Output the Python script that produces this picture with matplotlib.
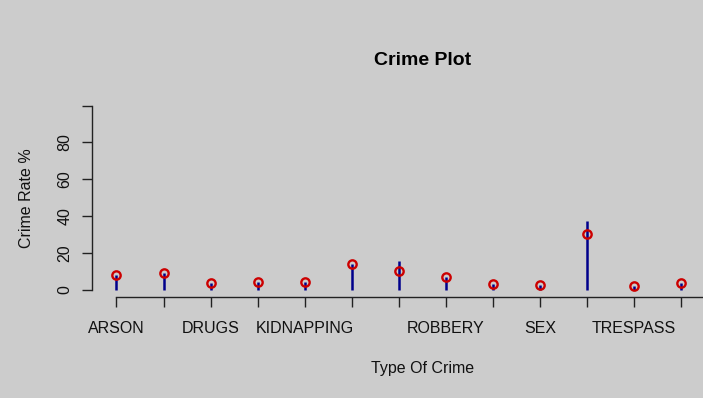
import numpy as np
import matplotlib
matplotlib.use("Agg")
import matplotlib.pyplot as plt

plt.rcParams["font.family"] = ["Liberation Sans", "DejaVu Sans"]

# crime categories (only some labels fit on the axis, like in R)
crimes = ["ARSON", "ASSAULT", "DRUGS", "FRAUD", "KIDNAPPING", "LARCENY",
          "OTHER OFFENSES", "ROBBERY", "RUNAWAY", "SEX", "THEFT",
          "TRESPASS", "VANDALISM"]
shown = ["ARSON", "DRUGS", "KIDNAPPING", "ROBBERY", "SEX", "TRESPASS"]

# red points: crime rate %
rate = [8, 9, 3.6, 4.2, 4.2, 14, 10.3, 6.7, 3.1, 2.4, 30.2, 1.8, 3.6]
# blue stems (type = "h")
stem = [8, 9, 3.6, 4.2, 4.2, 14, 15.7, 6.7, 3.1, 2.4, 37.4, 1.8, 3.6]

bg = "#cccccc"
fig = plt.figure(figsize=(7.03, 3.98), dpi=100, facecolor=bg)
ax = fig.add_axes([0.1309, 0.2538, 0.940, 0.4992], facecolor=bg)

x = np.arange(len(crimes))
ax.vlines(x, 0, stem, colors="#00008b", linewidth=1.8, zorder=2)
ax.plot(x, rate, "o", mfc="none", mec="#cc0000", mew=1.7, ms=6, zorder=3)

ax.set_xlim(-0.52, 13.52)
ax.set_ylim(-4, 104)

for s in ["top", "right"]:
    ax.spines[s].set_visible(False)
ax.spines["left"].set_bounds(0, 100)
ax.spines["bottom"].set_bounds(0, 13)
for s in ["left", "bottom"]:
    ax.spines[s].set_color("#222222")
    ax.spines[s].set_linewidth(1.0)

ax.set_xticks(x)
ax.set_xticklabels([c if c in shown else "" for c in crimes], fontsize=11.5)
ax.set_yticks([0, 20, 40, 60, 80, 100])
ax.set_yticklabels(["0", "20", "40", "60", "80", ""], fontsize=11.5,
                   rotation=90, va="center")
ax.tick_params(axis="both", length=7, width=1.0, color="#222222",
               labelcolor="#111111")
ax.tick_params(axis="x", pad=10)
ax.tick_params(axis="y", pad=7)

ax.set_xlabel("Type Of Crime", fontsize=11.5, labelpad=18, color="#111111")
ax.set_ylabel("Crime Rate %", fontsize=11.5, labelpad=17, color="#111111")
ax.set_title("Crime Plot", fontsize=14, fontweight="bold", pad=24)

fig.savefig("out.png", dpi=100, facecolor=bg)
